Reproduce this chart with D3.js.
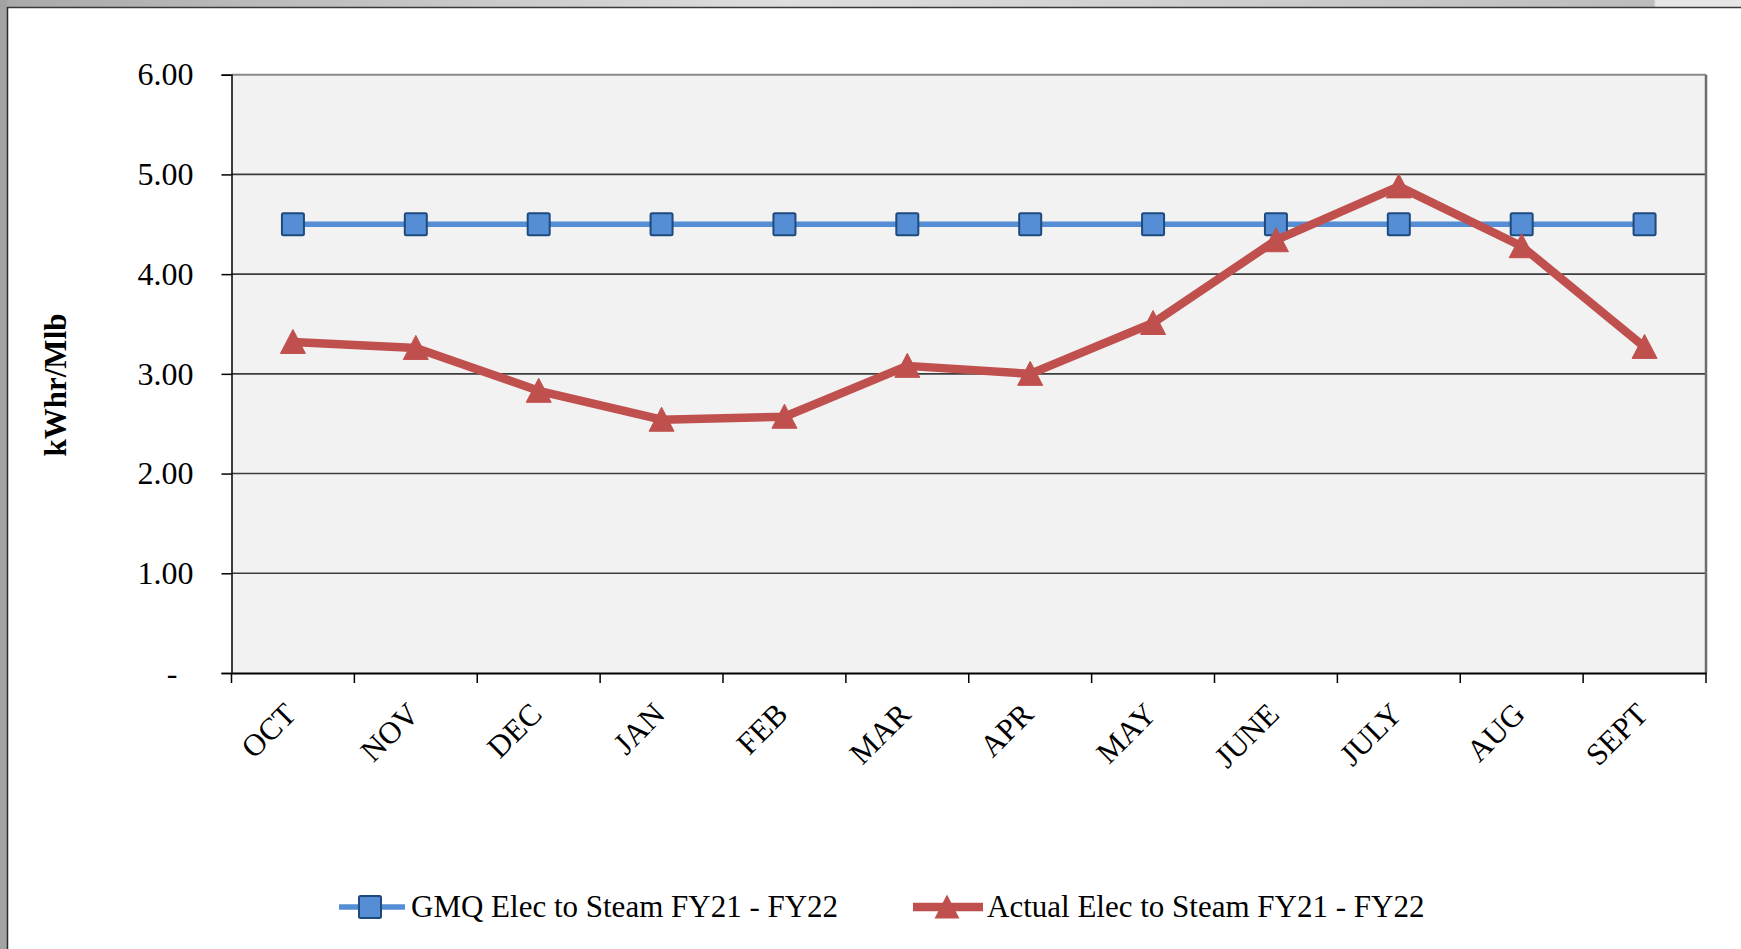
<!DOCTYPE html>
<html>
<head>
<meta charset="utf-8">
<script src="https://cdn.jsdelivr.net/npm/d3@7"></script>
<style>
  html, body { margin: 0; padding: 0; background: #ffffff; }
  svg { display: block; }
  text { font-family: "Liberation Serif", "Times New Roman", serif; fill: #000; }
</style>
</head>
<body>
<svg id="chart" width="1741" height="949"></svg>
<script>
// ---- data ----
const months = ["OCT","NOV","DEC","JAN","FEB","MAR","APR","MAY","JUNE","JULY","AUG","SEPT"];
const gmqValues = [4.50,4.50,4.50,4.50,4.50,4.50,4.50,4.50,4.50,4.50,4.50,4.50];
const actualValues = [3.32,3.26,2.83,2.54,2.57,3.08,3.00,3.51,4.34,4.88,4.28,3.27];
const yTicks = [0,1,2,3,4,5,6];
const seriesNames = ["GMQ Elec to Steam FY21 - FY22","Actual Elec to Steam FY21 - FY22"];
const yTitle = "kWhr/Mlb";

(function () {
const W = 1741, H = 949;
const svg = d3.select("#chart");

// ---- outer frame (screenshot chrome) ----
const defs = svg.append("defs");
const grad = defs.append("linearGradient").attr("id","topband").attr("x1","0").attr("x2","1").attr("y1","0").attr("y2","0");
grad.append("stop").attr("offset","0").attr("stop-color","#a9a9a9");
grad.append("stop").attr("offset","0.45").attr("stop-color","#dedede");
grad.append("stop").attr("offset","0.85").attr("stop-color","#c4c4c4");
grad.append("stop").attr("offset","0.95").attr("stop-color","#bcbcbc");
grad.append("stop").attr("offset","0.951").attr("stop-color","#e6e6e6");
grad.append("stop").attr("offset","1").attr("stop-color","#e6e6e6");
svg.append("rect").attr("x",0).attr("y",0).attr("width",W).attr("height",7).attr("fill","url(#topband)");
svg.append("rect").attr("x",0).attr("y",0).attr("width",7).attr("height",H).attr("fill","#a3a3a3");
svg.append("line").attr("x1",7).attr("x2",W).attr("y1",7.5).attr("y2",7.5).attr("stroke","#3a3a3a").attr("stroke-width",1.5);
svg.append("line").attr("x1",7.5).attr("x2",7.5).attr("y1",7).attr("y2",H).attr("stroke","#2a2a2a").attr("stroke-width",1.5);

// ---- plot geometry ----
const pLeft = 231.5, pRight = 1706, pTop = 74.7, pBottom = 673;
const x = d3.scaleBand().domain(months).range([pLeft, pRight]).padding(0);
const y = d3.scaleLinear().domain([0, 6]).range([pBottom, pTop]);
const cx = d => x(d) + x.bandwidth() / 2;

// plot background
svg.append("rect").attr("x",pLeft).attr("y",pTop).attr("width",pRight-pLeft).attr("height",pBottom-pTop).attr("fill","#f2f2f2");

// gridlines
svg.append("g").selectAll("line").data(yTicks.filter(t => t > 0 && t < 6)).join("line")
  .attr("x1",pLeft).attr("x2",pRight).attr("y1",d=>y(d)).attr("y2",d=>y(d))
  .attr("stroke","#3c3c3c").attr("stroke-width",1.6);
// top & right border
svg.append("line").attr("x1",pLeft).attr("x2",pRight).attr("y1",y(6)).attr("y2",y(6)).attr("stroke","#8a8a8a").attr("stroke-width",2);
svg.append("line").attr("x1",pRight).attr("x2",pRight).attr("y1",pTop).attr("y2",pBottom).attr("stroke","#6e6e6e").attr("stroke-width",2.5);

// y axis
const yAxis = d3.axisLeft(y).tickValues(yTicks).tickSize(10).tickPadding(28)
  .tickFormat(d => d === 0 ? "-" : d3.format(".2f")(d));
const gy = svg.append("g").attr("transform",`translate(${pLeft},0)`).call(yAxis);
gy.select(".domain").attr("stroke","#000").attr("stroke-width",1.5);
gy.selectAll(".tick line").attr("stroke","#000").attr("stroke-width",1.5);
gy.selectAll(".tick text").attr("font-family","Liberation Serif").attr("font-size",32).attr("fill","#000")
  .attr("dx", d => d === 0 ? -16 : 0);

// x axis
const xAxis = d3.axisBottom(x).tickSize(0).tickFormat("");
const gx = svg.append("g").attr("transform",`translate(0,${pBottom})`).call(xAxis);
gx.select(".domain").attr("stroke","#000").attr("stroke-width",2);
// boundary ticks (between categories)
const boundaries = months.map(m => x(m)).concat([pRight]);
svg.append("g").selectAll("line").data(boundaries).join("line")
  .attr("x1",d=>d).attr("x2",d=>d).attr("y1",pBottom).attr("y2",pBottom+10)
  .attr("stroke","#000").attr("stroke-width",1.5);
// rotated labels
svg.append("g").selectAll("text").data(months).join("text")
  .attr("transform", d => `translate(${cx(d)+5},${pBottom+43}) rotate(-45)`)
  .attr("text-anchor","end").attr("font-size",31).text(d => d);

// y title
svg.append("text").attr("transform","translate(66,385) rotate(-90)")
  .attr("text-anchor","middle").attr("font-weight","bold").attr("font-size",31).text(yTitle);

// ---- series ----
const line = d3.line().x(d => cx(d.m)).y(d => y(d.v));
const gmq = months.map((m,i) => ({m, v: gmqValues[i]}));
const act = months.map((m,i) => ({m, v: actualValues[i]}));

svg.append("path").datum(gmq).attr("d", line).attr("fill","none")
  .attr("stroke","#558ed5").attr("stroke-width",5.5);
svg.append("g").selectAll("rect").data(gmq).join("rect")
  .attr("x", d => cx(d.m) - 11).attr("y", d => y(d.v) - 11)
  .attr("width",22).attr("height",22).attr("rx",1.5)
  .attr("fill","#558ed5").attr("stroke","#1f4a7d").attr("stroke-width",2);

svg.append("path").datum(act).attr("d", line).attr("fill","none")
  .attr("stroke","#c0504d").attr("stroke-width",8.5).attr("stroke-linejoin","round");
const tri = "M0,-12.5 L12.5,11.5 L-12.5,11.5 Z";
svg.append("g").selectAll("path").data(act).join("path")
  .attr("transform", d => `translate(${cx(d.m)},${y(d.v)})`)
  .attr("d", tri).attr("fill","#c0504d").attr("stroke","#c0504d").attr("stroke-width",1);

// ---- legend ----
const ly = 907;
const lg = svg.append("g");
lg.append("line").attr("x1",339).attr("x2",405).attr("y1",ly).attr("y2",ly).attr("stroke","#558ed5").attr("stroke-width",5.5);
lg.append("rect").attr("x",370-11).attr("y",ly-11).attr("width",22).attr("height",22).attr("rx",1.5)
  .attr("fill","#558ed5").attr("stroke","#1f4a7d").attr("stroke-width",2);
lg.append("text").attr("x",411).attr("y",ly+10).attr("font-size",31).text(seriesNames[0]);

lg.append("line").attr("x1",913).attr("x2",983).attr("y1",ly).attr("y2",ly).attr("stroke","#c0504d").attr("stroke-width",8.5);
lg.append("path").attr("transform",`translate(947,${ly})`).attr("d",tri).attr("fill","#c0504d");
lg.append("text").attr("x",987).attr("y",ly+10).attr("font-size",31).text(seriesNames[1]);
})();
</script>
</body>
</html>
